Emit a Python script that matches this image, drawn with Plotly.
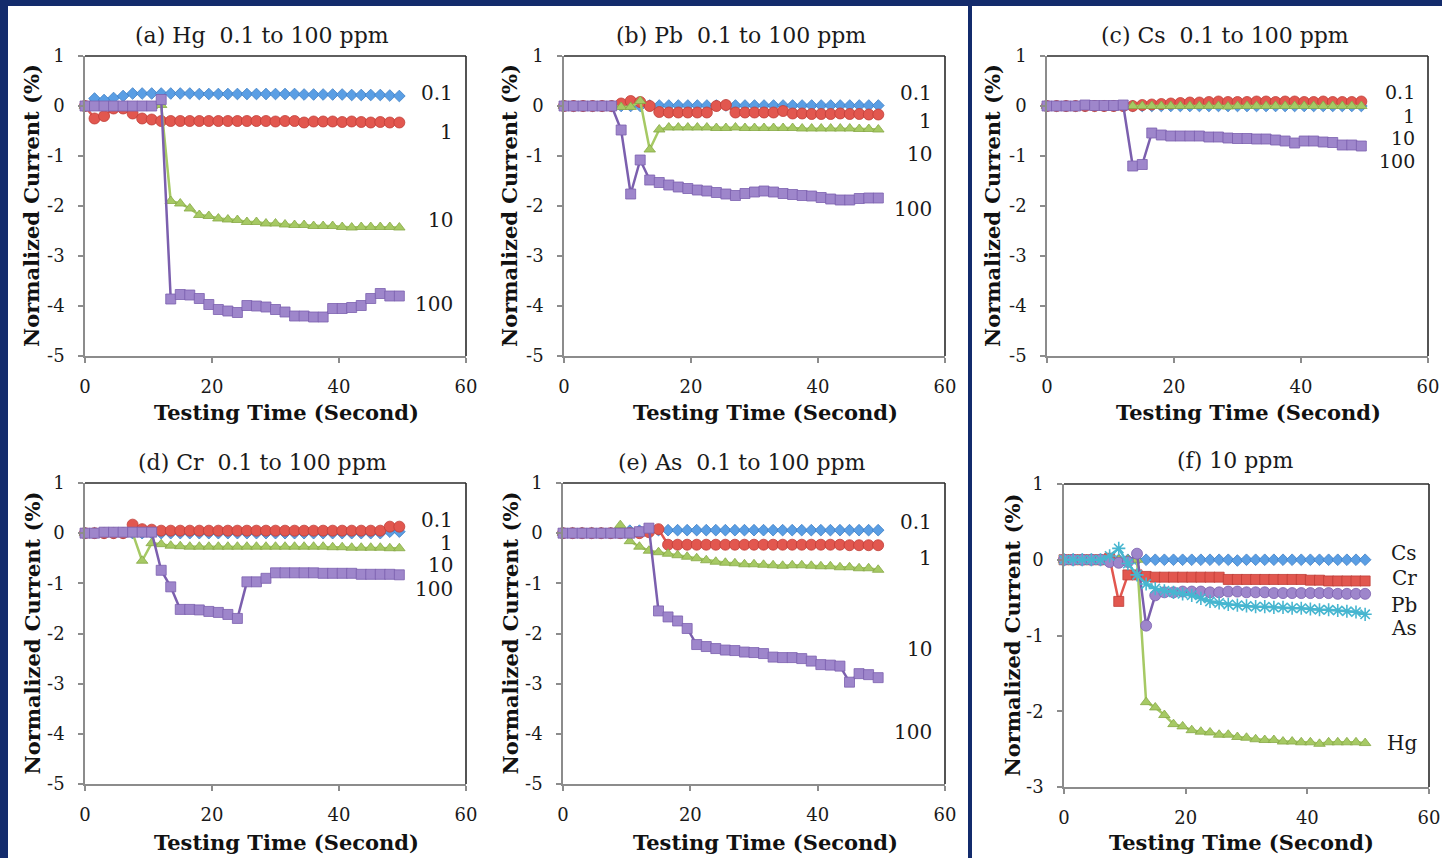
import plotly.graph_objects as go

W, H = 1442, 858

# Sampling times (s)
time_s = [0, 1.5, 3, 4.5, 6, 7.5, 9, 10.5, 12, 13.5, 15, 16.5, 18, 19.5, 21, 22.5, 24,
          25.5, 27, 28.5, 30, 31.5, 33, 34.5, 36, 37.5, 39, 40.5, 42, 43.5, 45, 46.5, 48, 49.5]

# (a) Hg, 0.1 to 100 ppm
hg_01 = [0.0, 0.15, 0.12, 0.16, 0.2, 0.25, 0.25, 0.25, 0.25, 0.25, 0.25, 0.25, 0.24, 0.24, 0.24, 0.24, 0.24,
         0.24, 0.24, 0.24, 0.24, 0.24, 0.24, 0.23, 0.23, 0.23, 0.23, 0.23, 0.22, 0.22, 0.22, 0.22, 0.21, 0.2]
hg_1 = [0.0, -0.25, -0.2, -0.05, -0.05, -0.15, -0.25, -0.27, -0.3, -0.3, -0.3, -0.3, -0.3, -0.3, -0.3, -0.3, -0.3,
        -0.3, -0.3, -0.3, -0.31, -0.3, -0.3, -0.33, -0.31, -0.31, -0.31, -0.32, -0.31, -0.32, -0.33, -0.32, -0.33, -0.33]
hg_10 = [0, 0, 0, 0, 0, 0, 0, 0, 0.02, -1.9, -1.95, -2.05, -2.18, -2.2, -2.25, -2.27, -2.28,
         -2.32, -2.32, -2.35, -2.35, -2.37, -2.38, -2.38, -2.4, -2.4, -2.4, -2.42, -2.43, -2.42, -2.42, -2.42, -2.42, -2.43]
hg_100 = [0, 0, 0, 0, 0, 0, 0, 0, 0.13, -3.86, -3.77, -3.78, -3.85, -3.97, -4.07, -4.1, -4.13,
          -3.99, -4.0, -4.02, -4.07, -4.12, -4.2, -4.2, -4.22, -4.22, -4.05, -4.05, -4.03, -3.99, -3.85, -3.75, -3.8, -3.8]

# (b) Pb, 0.1 to 100 ppm
pb_01 = [0, 0, 0, 0, 0, 0, 0, 0, 0, 0.01, 0.01, 0.01, 0.01, 0.01, 0.01, 0.01, 0.01,
         0.01, 0.01, 0.01, 0.01, 0.01, 0.01, 0.01, 0.01, 0.01, 0.01, 0.01, 0.01, 0.01, 0.01, 0.01, 0.01, 0.01]
pb_1 = [0, 0, 0, 0, 0, 0, 0.05, 0.1, 0.08, 0.0, -0.12, -0.13, -0.13, -0.13, -0.13, -0.13, 0.0,
        0.02, -0.13, -0.13, -0.13, -0.13, -0.13, -0.1, -0.15, -0.15, -0.16, -0.16, -0.16, -0.15, -0.16, -0.16, -0.17, -0.17]
pb_10 = [0, 0, 0, 0, 0, 0, -0.02, -0.02, 0.1, -0.87, -0.47, -0.43, -0.43, -0.43, -0.43, -0.43, -0.44,
         -0.44, -0.43, -0.44, -0.44, -0.44, -0.44, -0.44, -0.44, -0.45, -0.45, -0.45, -0.45, -0.45, -0.45, -0.46, -0.46, -0.47]
pb_100 = [0, 0, 0, 0, 0, 0, -0.48, -1.76, -1.08, -1.48, -1.53, -1.58, -1.62, -1.65, -1.68, -1.7, -1.73,
          -1.76, -1.79, -1.75, -1.72, -1.7, -1.72, -1.75, -1.77, -1.79, -1.8, -1.83, -1.86, -1.88, -1.88, -1.85, -1.84, -1.84]

# (c) Cs, 0.1 to 100 ppm
cs_01 = [0, 0, 0, 0, 0, 0, 0, 0, 0, 0, 0, 0, 0, 0, 0, 0, 0,
         0, 0, 0, 0, 0, 0, 0, 0, 0, 0, 0, 0, 0, 0, 0, 0, 0]
cs_1 = [0, 0, 0, 0, 0, 0, 0, 0, 0, 0, 0.02, 0.03, 0.04, 0.05, 0.06, 0.07, 0.07,
        0.08, 0.09, 0.08, 0.08, 0.08, 0.09, 0.09, 0.08, 0.09, 0.09, 0.08, 0.08, 0.09, 0.08, 0.08, 0.08, 0.09]
cs_10 = [0, 0, 0, 0, 0, 0, 0, 0, 0, 0, 0, 0, 0, 0, 0, 0, 0,
         0, 0, -0.01, 0, 0, 0, 0, 0, 0, 0, 0, 0, 0, 0, 0, 0, 0]
cs_100 = [0, 0, 0, 0, 0.02, 0.01, 0.01, 0.01, 0.02, -1.2, -1.17, -0.54, -0.58, -0.6, -0.6, -0.6, -0.6,
          -0.62, -0.62, -0.64, -0.65, -0.65, -0.66, -0.66, -0.68, -0.7, -0.74, -0.7, -0.7, -0.72, -0.73, -0.78, -0.78, -0.8]

# (d) Cr, 0.1 to 100 ppm
cr_01 = [0, 0, 0, 0, 0, 0, 0, 0, 0, 0, 0, 0, 0, 0, 0, 0, 0,
         0, 0, 0, 0, 0, 0, 0, 0, 0, 0, 0, 0, 0, 0, 0, 0.03, 0.03]
cr_1 = [0, 0, 0, 0, 0, 0.17, 0.08, 0.07, 0.05, 0.05, 0.05, 0.05, 0.05, 0.05, 0.05, 0.05, 0.05,
        0.05, 0.05, 0.05, 0.05, 0.05, 0.05, 0.05, 0.05, 0.05, 0.05, 0.05, 0.05, 0.05, 0.05, 0.05, 0.13, 0.13]
cr_10 = [0, 0, 0, 0, 0, 0, -0.55, -0.2, -0.22, -0.25, -0.26, -0.27, -0.27, -0.27, -0.27, -0.27, -0.27,
         -0.27, -0.27, -0.27, -0.27, -0.27, -0.27, -0.27, -0.27, -0.27, -0.28, -0.28, -0.29, -0.29, -0.29, -0.29, -0.3, -0.3]
cr_100 = [0, 0, 0.02, 0.02, 0.02, 0.02, 0.02, 0.02, -0.74, -1.07, -1.52, -1.52, -1.53, -1.56, -1.58, -1.62, -1.7,
          -0.97, -0.97, -0.9, -0.79, -0.79, -0.79, -0.79, -0.79, -0.8, -0.8, -0.8, -0.8, -0.82, -0.82, -0.82, -0.82, -0.83]

# (e) As, 0.1 to 100 ppm
as_01 = [0, 0, 0, 0, 0, 0, 0.02, 0.05, 0.05, 0.06, 0.06, 0.06, 0.06, 0.06, 0.06, 0.06, 0.06,
         0.06, 0.06, 0.06, 0.06, 0.06, 0.06, 0.06, 0.06, 0.06, 0.06, 0.06, 0.06, 0.06, 0.06, 0.06, 0.06, 0.06]
as_1 = [0, 0, 0, 0, 0, 0, 0, 0, 0, 0.02, 0.08, -0.23, -0.23, -0.23, -0.23, -0.23, -0.23,
        -0.23, -0.23, -0.23, -0.23, -0.23, -0.23, -0.23, -0.23, -0.23, -0.23, -0.23, -0.23, -0.23, -0.24, -0.24, -0.24, -0.24]
as_10 = [0, 0, 0, 0, 0, 0, 0.16, -0.16, -0.27, -0.35, -0.38, -0.41, -0.44, -0.47, -0.5, -0.54, -0.57,
         -0.59, -0.6, -0.62, -0.62, -0.63, -0.64, -0.65, -0.64, -0.64, -0.65, -0.66, -0.66, -0.68, -0.68, -0.7, -0.7, -0.73]
as_100 = [0, 0, 0, 0, 0, 0, 0, 0, 0.03, 0.1, -1.55, -1.67, -1.75, -1.9, -2.22, -2.26, -2.3,
          -2.33, -2.34, -2.37, -2.38, -2.4, -2.47, -2.48, -2.48, -2.5, -2.55, -2.62, -2.63, -2.65, -2.97, -2.8, -2.82, -2.88]

# (f) all metals at 10 ppm
ten_cs = [0, 0, 0, 0, 0, 0, 0, 0, 0, 0, 0, 0, 0, 0, 0, 0, 0,
          0, 0, -0.01, 0, 0, 0, 0, 0, 0, 0, 0, 0, 0, 0, 0, 0, 0]
ten_cr = [0, 0, 0, 0, 0, 0.02, -0.55, -0.2, -0.2, -0.22, -0.23, -0.23, -0.23, -0.23, -0.23, -0.23, -0.23,
          -0.23, -0.26, -0.26, -0.26, -0.26, -0.26, -0.26, -0.26, -0.26, -0.26, -0.27, -0.27, -0.28, -0.28, -0.28, -0.28, -0.28]
ten_hg = [0, 0, 0, 0, 0, 0, 0, 0, 0.0, -1.88, -1.95, -2.05, -2.17, -2.2, -2.25, -2.27, -2.28,
          -2.31, -2.31, -2.34, -2.35, -2.37, -2.38, -2.38, -2.4, -2.4, -2.41, -2.41, -2.43, -2.41, -2.41, -2.41, -2.41, -2.42]
ten_pb = [0, 0, 0, 0, 0, -0.03, -0.04, -0.03, 0.08, -0.87, -0.47, -0.43, -0.43, -0.42, -0.42, -0.42, -0.43,
          -0.43, -0.42, -0.42, -0.43, -0.43, -0.43, -0.44, -0.44, -0.44, -0.44, -0.44, -0.44, -0.44, -0.45, -0.45, -0.45, -0.45]
ten_as = [0, 0, 0, 0, 0, 0.05, 0.15, -0.05, -0.2, -0.32, -0.38, -0.41, -0.43, -0.45, -0.47, -0.51, -0.55,
          -0.57, -0.59, -0.6, -0.61, -0.62, -0.62, -0.63, -0.63, -0.64, -0.64, -0.65, -0.66, -0.66, -0.67, -0.68, -0.69, -0.72]

conc_labels = ["0.1", "1", "10", "100"]
metal_labels = ["Cs", "Cr", "Pb", "As", "Hg"]

x_ticks = [0, 20, 40, 60]
y_ticks_full = [-5, -4, -3, -2, -1, 0, 1]
y_ticks_short = [-3, -2, -1, 0, 1]

BLUE = dict(fill="#5a9ee4", edge="#3f7fc4")
RED = dict(fill="#e2574f", edge="#c03d37")
GREEN = dict(fill="#a6c964", edge="#86a845")
PURPLE = dict(fill="#9e86cb", edge="#7b5fae")
CYAN = dict(fill="#47b6d0", edge="#2f9bb6")

SERIF = "DejaVu Serif"
NAVY = "#132b6c"

# plot areas in pixels: (left, right, top, bottom); lab_size = font size of the curve labels
panels = [
    dict(box=(85, 466, 56, 356), yt=y_ticks_full, title="(a) Hg  0.1 to 100 ppm", tx=262, ty=35,
         ytx=32, xtx=286, xty=413, lab_size=20,
         series=[(hg_01, BLUE, "diamond"), (hg_1, RED, "circle"), (hg_10, GREEN, "triangle-up"), (hg_100, PURPLE, "square")],
         labels=list(zip(conc_labels, [0.26, -0.51, -2.28, -3.95]))),
    dict(box=(564, 945, 56, 356), yt=y_ticks_full, title="(b) Pb  0.1 to 100 ppm", tx=741, ty=35,
         ytx=510, xtx=765, xty=413, lab_size=20,
         series=[(pb_01, BLUE, "diamond"), (pb_1, RED, "circle"), (pb_10, GREEN, "triangle-up"), (pb_100, PURPLE, "square")],
         labels=list(zip(conc_labels, [0.27, -0.29, -0.96, -2.05]))),
    dict(box=(1047, 1428, 56, 356), yt=y_ticks_full, title="(c) Cs  0.1 to 100 ppm", tx=1225, ty=35,
         ytx=993, xtx=1248, xty=413, lab_size=19,
         series=[(cs_01, BLUE, "diamond"), (cs_1, RED, "circle"), (cs_10, GREEN, "triangle-up"), (cs_100, PURPLE, "square")],
         labels=list(zip(conc_labels, [0.28, -0.19, -0.64, -1.1]))),
    dict(box=(85, 466, 483, 784), yt=y_ticks_full, title="(d) Cr  0.1 to 100 ppm", tx=262, ty=462,
         ytx=32, xtx=286, xty=842, lab_size=20,
         series=[(cr_01, BLUE, "diamond"), (cr_1, RED, "circle"), (cr_10, GREEN, "triangle-up"), (cr_100, PURPLE, "square")],
         labels=list(zip(conc_labels, [0.26, -0.19, -0.64, -1.12]))),
    dict(box=(563, 945, 483, 784), yt=y_ticks_full, title="(e) As  0.1 to 100 ppm", tx=742, ty=462,
         ytx=510, xtx=765, xty=842, lab_size=20,
         series=[(as_01, BLUE, "diamond"), (as_1, RED, "circle"), (as_10, GREEN, "triangle-up"), (as_100, PURPLE, "square")],
         labels=list(zip(conc_labels, [0.23, -0.5, -2.3, -3.96]))),
    dict(box=(1064, 1429, 484, 787), yt=y_ticks_short, title="(f) 10 ppm", tx=1235, ty=460,
         ytx=1012, xtx=1241, xty=842, lab_size=20,
         series=[(ten_cs, BLUE, "diamond"), (ten_cr, RED, "square"), (ten_hg, GREEN, "triangle-up"),
                 (ten_pb, PURPLE, "circle"), (ten_as, CYAN, "asterisk-open")],
         labels=list(zip(metal_labels, [0.085, -0.24, -0.6, -0.9, -2.42]))),
]

MSIZE = {"diamond": 9, "circle": 11, "triangle-up": 10, "square": 10, "asterisk-open": 11}

fig = go.Figure()
layout = dict(
    width=W, height=H, margin=dict(l=0, r=0, t=0, b=0, pad=0, autoexpand=False),
    paper_bgcolor="white", plot_bgcolor="white", showlegend=False,
)
shapes = [
    # dark frame pieces around the white sheet
    dict(type="rect", xref="paper", yref="paper", x0=0, x1=1, y0=1 - 6 / H, y1=1,
         fillcolor=NAVY, line=dict(width=0), layer="below"),
    dict(type="rect", xref="paper", yref="paper", x0=0, x1=8 / W, y0=0, y1=1,
         fillcolor=NAVY, line=dict(width=0), layer="below"),
    dict(type="rect", xref="paper", yref="paper", x0=968 / W, x1=972 / W, y0=0, y1=1,
         fillcolor=NAVY, line=dict(width=0), layer="below"),
]
annotations = []


def tick_text(vals):
    # plain hyphen minus, as printed on the axes
    return [str(v) for v in vals]


for i, p in enumerate(panels):
    n = "" if i == 0 else str(i + 1)
    xa, ya = "x" + n, "y" + n
    l, r, t, b = p["box"]
    layout["xaxis" + n] = dict(
        domain=[l / W, r / W], range=[0, 60], tickvals=x_ticks, ticktext=tick_text(x_ticks), anchor=ya,
        showline=True, linecolor="#8c8c8c", linewidth=1.5, ticks="outside", ticklen=5,
        tickcolor="#8c8c8c", tickwidth=1.5, showgrid=False, zeroline=False,
        tickfont=dict(family=SERIF, size=18, color="#1a1a1a"), ticklabelstandoff=9,
    )
    yt = p["yt"]
    layout["yaxis" + n] = dict(
        domain=[1 - b / H, 1 - t / H], range=[yt[0], yt[-1]], tickvals=yt, ticktext=tick_text(yt), anchor=xa,
        showline=True, linecolor="#8c8c8c", linewidth=1.5, ticks="outside", ticklen=5,
        tickcolor="#8c8c8c", tickwidth=1.5, showgrid=False, zeroline=False,
        tickfont=dict(family=SERIF, size=18, color="#1a1a1a"), ticklabelstandoff=10,
    )
    # top and right border of the plot area
    shapes.append(dict(type="line", xref="paper", yref="paper", x0=l / W, x1=r / W,
                       y0=1 - t / H, y1=1 - t / H, line=dict(color="#2a2a2a", width=1.6)))
    shapes.append(dict(type="line", xref="paper", yref="paper", x0=r / W, x1=r / W,
                       y0=1 - t / H, y1=1 - b / H, line=dict(color="#2a2a2a", width=1.6)))

    for vals, col, sym in p["series"]:
        open_sym = sym.endswith("-open")
        fig.add_trace(go.Scatter(
            x=time_s, y=vals, xaxis=xa, yaxis=ya, mode="lines+markers",
            line=dict(color=col["edge"] if col is PURPLE else col["fill"], width=2.5),
            marker=dict(symbol=sym, size=MSIZE[sym], color=col["fill"],
                        line=dict(color=col["fill"] if open_sym else col["edge"],
                                  width=1.6 if open_sym else 0.8)),
            cliponaxis=False, hoverinfo="skip",
        ))

    for txt, yv in p["labels"]:
        annotations.append(dict(x=58.3, y=yv, xref=xa, yref=ya, text=txt, showarrow=False,
                                xanchor="right", yanchor="middle",
                                font=dict(family=SERIF, size=p["lab_size"], color="#1a1a1a")))

    annotations.append(dict(x=p["tx"] / W, y=1 - p["ty"] / H, xref="paper", yref="paper",
                            text=p["title"], showarrow=False, xanchor="center", yanchor="middle",
                            font=dict(family=SERIF, size=22, color="#1a1a1a")))
    annotations.append(dict(x=p["ytx"] / W, y=1 - ((t + b) / 2) / H, xref="paper", yref="paper",
                            text="Normalized Current (%)", textangle=-90, showarrow=False,
                            xanchor="center", yanchor="middle",
                            font=dict(family=SERIF, size=21, color="#111111", weight="bold")))
    annotations.append(dict(x=p["xtx"] / W, y=1 - p["xty"] / H, xref="paper", yref="paper",
                            text="Testing Time (Second)", showarrow=False,
                            xanchor="center", yanchor="middle",
                            font=dict(family=SERIF, size=21, color="#111111", weight="bold")))

layout["shapes"] = shapes
layout["annotations"] = annotations
fig.update_layout(**layout)
fig.write_html("out.html")
